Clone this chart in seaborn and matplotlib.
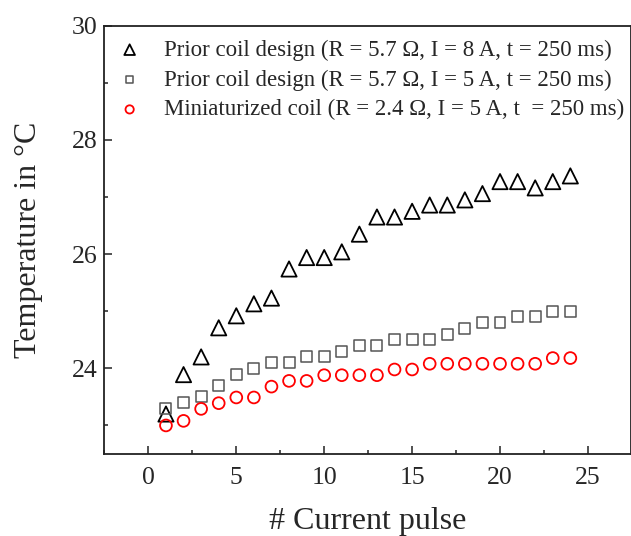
import matplotlib
matplotlib.use("Agg")
import matplotlib.pyplot as plt
import seaborn as sns
from matplotlib.ticker import MultipleLocator

# Data
pulses = list(range(1, 25))
prior_8a = [23.2, 23.89, 24.2, 24.71, 24.92, 25.13, 25.23, 25.74, 25.94, 25.94,
            26.04, 26.35, 26.65, 26.65, 26.75, 26.86, 26.86, 26.95, 27.06, 27.27,
            27.27, 27.16, 27.27, 27.37]
prior_5a = [23.3, 23.4, 23.5, 23.7, 23.9, 24.0, 24.1, 24.1, 24.2, 24.2,
            24.3, 24.4, 24.4, 24.5, 24.5, 24.5, 24.6, 24.7, 24.8, 24.8,
            24.9, 24.9, 25.0, 25.0]
mini_5a = [23.0, 23.08, 23.29, 23.39, 23.49, 23.49, 23.68, 23.78, 23.78, 23.88,
           23.88, 23.88, 23.88, 23.98, 23.98, 24.08, 24.08, 24.08, 24.08, 24.08,
           24.08, 24.08, 24.18, 24.18]

labels = ["Prior coil design (R = 5.7 \u03a9, I = 8 A, t = 250 ms)",
          "Prior coil design (R = 5.7 \u03a9, I = 5 A, t = 250 ms)",
          "Miniaturized coil (R = 2.4 \u03a9, I = 5 A, t  = 250 ms)"]

sns.set_style("ticks")
plt.rcParams['font.family'] = ['Liberation Serif', 'DejaVu Serif']

fig = plt.figure(figsize=(6.31, 5.36), dpi=100)
ax = fig.add_axes([0.1655, 0.153, 0.8345, 0.799])

sns.scatterplot(x=pulses, y=prior_8a, marker='^', s=120, facecolor='none',
                edgecolor='black', linewidth=1.3, label=labels[0], ax=ax)
sns.scatterplot(x=pulses, y=prior_5a, marker='s', s=62, facecolor='none',
                edgecolor='#555555', linewidth=1.1, label=labels[1], ax=ax)
sns.scatterplot(x=pulses, y=mini_5a, marker='o', s=72, facecolor='none',
                edgecolor='red', linewidth=1.3, label=labels[2], ax=ax)

ax.set_xlim(-2.5, 27.45)
ax.set_ylim(22.5, 30)
ax.xaxis.set_major_locator(MultipleLocator(5))
ax.xaxis.set_minor_locator(MultipleLocator(2.5))
ax.yaxis.set_major_locator(MultipleLocator(2))
ax.yaxis.set_minor_locator(MultipleLocator(1))
ax.tick_params(which='both', direction='in', top=False, right=False,
               labelsize=18.5, width=1.1, color='#222222', pad=5)
ax.tick_params(axis='x', which='both', pad=9.5)
ax.tick_params(which='major', length=6)
ax.tick_params(which='minor', length=3)
for sp in ax.spines.values():
    sp.set_linewidth(1.3)
    sp.set_color('#222222')

ax.set_xlabel("# Current pulse", fontsize=23, labelpad=12.5)
ax.set_ylabel("Temperature in \u00b0C", fontsize=23, labelpad=21)

ax.legend(loc='upper left', frameon=False, fontsize=16.5, markerscale=0.7,
          labelspacing=0.38, handlelength=1.0, handletextpad=1.0,
          borderaxespad=0.2, bbox_to_anchor=(0.0, 1.0))

fig.savefig("out.png", dpi=100)
